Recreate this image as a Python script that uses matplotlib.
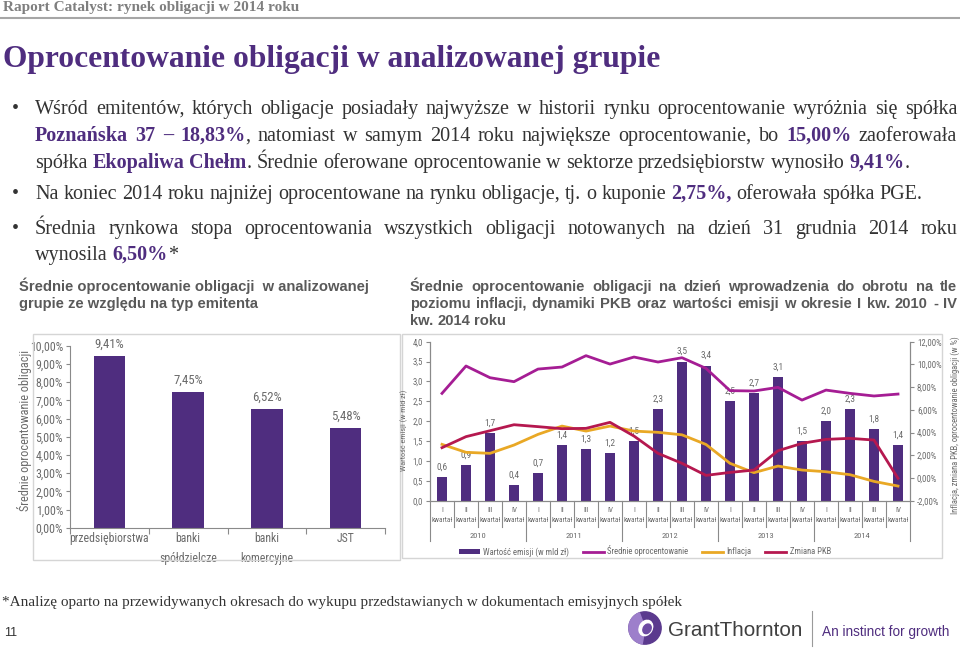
import matplotlib
matplotlib.use("Agg")
import matplotlib.pyplot as plt
from matplotlib import font_manager
from matplotlib.patches import Rectangle, Circle, Wedge, Ellipse
from matplotlib.lines import Line2D
import numpy as np

W, H = 960, 648

# left chart - average coupon by issuer type
issuer_types = ["przedsiębiorstwa", "banki\nspółdzielcze", "banki\nkomercyjne", "JST"]
issuer_rates = [9.41, 7.45, 6.52, 5.48]

# right chart - quarterly data, I kw. 2010 - IV kw. 2014
years = ["2010", "2011", "2012", "2013", "2014"]
quarters = ["I", "II", "III", "IV"]
emission = [0.6, 0.9, 1.7, 0.4, 0.7, 1.4, 1.3, 1.2, 1.5, 2.3,
            3.5, 3.4, 2.5, 2.7, 3.1, 1.5, 2.0, 2.3, 1.8, 1.4]
avg_rate = [7.45, 9.86, 8.83, 8.48, 9.59, 9.77, 10.77, 10.03, 10.65, 10.21,
            10.59, 9.65, 7.69, 7.66, 7.98, 6.86, 7.74, 7.45, 7.22, 7.39]
inflation = [2.96, 2.26, 2.17, 2.90, 3.84, 4.57, 4.13, 4.57, 4.13, 4.02,
             3.80, 2.95, 1.29, 0.47, 1.05, 0.70, 0.55, 0.29, -0.30, -0.71]
gdp = [2.67, 3.64, 4.16, 4.69, 4.52, 4.34, 4.37, 4.90, 3.69, 2.17,
       1.29, 0.23, 0.49, 0.70, 2.40, 3.05, 3.40, 3.49, 3.34, -0.03]

PURPLE = "#4f2d7f"
MAGENTA = "#a51d94"
YELLOW = "#e9a825"
RED = "#b5184f"
GREY = "#6a6a6a"
AXIS = "#8a8a8a"
TEXT = "#333333"

SERIF = "Liberation Serif"
SANS = "Liberation Sans"

# narrow sans for the charts if one is installed
fonts = font_manager.fontManager.ttflist
CHART, STRETCH = SANS, "normal"
for name in ["Liberation Sans Narrow", "Roboto Condensed", "Open Sans Condensed", "DejaVu Sans", "Noto Sans"]:
    hit = [f for f in fonts if f.name == name and f.weight in (400, "normal", "regular")
           and (f.stretch in ("condensed", "semi-condensed") or "Narrow" in name or "Condensed" in name)]
    if hit:
        CHART, STRETCH = name, hit[0].stretch
        break
plt.rcParams["font.family"] = [CHART, "DejaVu Sans"]
plt.rcParams["font.stretch"] = STRETCH

fig = plt.figure(figsize=(9.6, 6.48), dpi=100)
renderer = fig.canvas.get_renderer()


def fx(x):
    return x / W


def fy(y):
    return 1 - y / H


def width_of(s, **kw):
    t = fig.text(0, 0, s, **kw)
    w = t.get_window_extent(renderer).width
    t.remove()
    return w


def fit(s, target, **kw):
    return 10 * target / width_of(s, fontsize=10, **kw)


# ---- rich text with **bold** parts, optionally justified ----
def parse(line):
    words, bold = [], False
    for raw in line.split(" "):
        segs = []
        for i, p in enumerate(raw.split("**")):
            if i > 0:
                bold = not bold
            if p:
                segs.append((p, bold))
        if segs:
            words.append(segs)
    return words


def style(bold, size, family, color, bcolor):
    return dict(fontsize=size, family=family, fontweight="bold" if bold else "normal",
                color=bcolor if bold else color)


def rich(line, x0, base, size, family=SERIF, x1=None, color=TEXT, bcolor=PURPLE, allbold=False):
    words = parse(line)
    st = lambda b: style(b or allbold, size, family, color, bcolor)
    widths = [[width_of(s, **st(b)) for s, b in w] for w in words]
    total = sum(sum(w) for w in widths)
    space = width_of("a a", **st(False)) - width_of("aa", **st(False))
    gap = space if x1 is None else (x1 - x0 - total) / (len(words) - 1)
    x = x0
    for w, ws in zip(words, widths):
        for (s, b), sw in zip(w, ws):
            fig.text(fx(x), fy(base), s, ha="left", va="baseline", **st(b))
            x += sw
        x += gap


def rich_width(line, size, family=SERIF):
    words = parse(line)
    total = sum(width_of(s, **style(b, size, family, TEXT, PURPLE)) for w in words for s, b in w)
    space = width_of("a a", fontsize=size, family=family) - width_of("aa", fontsize=size, family=family)
    return total + space * (len(words) - 1)


# ---- header ----
header = "Raport Catalyst: rynek obligacji w 2014 roku"
fig.text(fx(3), fy(11), header, ha="left", va="baseline", family=SERIF, fontweight="bold",
         color="#7f7f7f", fontsize=fit(header, 297, family=SERIF, fontweight="bold"))
fig.add_artist(Line2D([0, 1], [fy(18), fy(18)], color="#a6a6a6", lw=1.5))

title = "Oprocentowanie obligacji w analizowanej grupie"
fig.text(fx(3), fy(67), title, ha="left", va="baseline", family=SERIF, fontweight="bold",
         color=PURPLE, fontsize=fit(title, 657, family=SERIF, fontweight="bold"))

# ---- bullets ----
body = [
    ("Wśród emitentów, których obligacje posiadały najwyższe w historii rynku oprocentowanie wyróżnia się spółka", 114, True, True),
    ("**Poznańska 37 – 18,83%**, natomiast w samym 2014 roku największe oprocentowanie, bo **15,00%** zaoferowała", 141, False, True),
    ("spółka **Ekopaliwa Chełm**. Średnie oferowane oprocentowanie w sektorze przedsiębiorstw wynosiło **9,41%**.", 168, False, False),
    ("Na koniec 2014 roku najniżej oprocentowane na rynku obligacje, tj. o kuponie **2,75%,** oferowała spółka PGE.", 199, True, False),
    ("Średnia rynkowa stopa oprocentowania wszystkich obligacji notowanych na dzień 31 grudnia 2014 roku", 234, True, True),
    ("wynosila **6,50%***", 260, False, False),
]
bsize = 12 * 890 / rich_width(body[3][0], 12)
for line, base, bullet, justify in body:
    if bullet:
        fig.text(fx(12), fy(base), "•", ha="left", va="baseline", family=SERIF, fontsize=bsize, color=TEXT)
    rich(line, 35, base, bsize, x1=957 if justify else None)

# ---- chart subtitles ----
sub_l = ["Średnie oprocentowanie obligacji  w analizowanej", "grupie ze względu na typ emitenta"]
sub_r = ["Średnie oprocentowanie obligacji  na dzień wprowadzenia do obrotu na tle",
         "poziomu inflacji, dynamiki PKB oraz wartości emisji w okresie I kw. 2010 - IV",
         "kw. 2014 roku"]
ssize = fit(sub_l[0], 351, family=SANS, fontweight="bold")
for i, s in enumerate(sub_l):
    fig.text(fx(19), fy(291 + 17 * i), s, ha="left", va="baseline", family=SANS,
             fontweight="bold", fontsize=ssize, color="#595959")
for i, s in enumerate(sub_r):
    rich(s, 410, 291 + 17 * i, ssize, family=SANS, x1=957 if i < 2 else None,
         color="#595959", allbold=True, bcolor="#595959")

# chart text sizes, from widths measured on the reference (a bit larger, the original font is narrower)
k = 1.1
s_tick_l = fit("10,00%", 30 * k)
s_cat = fit("przedsiębiorstwa", 72 * k)
s_val_l = fit("9,41%", 27 * k)
s_ylab_l = fit("Średnie oprocentowanie obligacji", 146 * k)
s_tick_r = fit("12,00%", 22 * k)
s_val_r = fit("0,6", 10 * k)
s_kw = fit("kwartał", 21)
s_year = fit("2010", 15 * k)
s_leg = fit("Wartość emisji (w mld zł)", 78 * k)
s_ylab_r1 = fit("Wartość emisji (w mld zł)", 73 * k)
s_ylab_r2 = fit("Inflacja, zmiana PKB, oprocentowanie obligacji (w %)", 180)

# ---- left chart ----
fig.add_artist(Rectangle((fx(33), fy(560)), (400 - 33) / W, (560 - 334) / H,
                         transform=fig.transFigure, fill=False, ec="#d5d5d5", lw=1))
ax1 = fig.add_axes([fx(70), fy(527.7), (385 - 70) / W, (527.7 - 345.7) / H])
pos = np.arange(len(issuer_types))
ax1.bar(pos, issuer_rates, width=0.4, color=PURPLE)
for p, v in zip(pos, issuer_rates):
    ax1.annotate(f"{v:.2f}%".replace(".", ","), (p, v), xytext=(0, 4), textcoords="offset points",
                 ha="center", va="bottom", fontsize=s_val_l, color=GREY)
ax1.set_xlim(-0.5, len(issuer_types) - 0.5)
ax1.set_ylim(0, 10)
yt = np.arange(0, 11, 1)
ax1.set_yticks(yt, [f"{v:.2f}%".replace(".", ",") for v in yt])
ax1.set_xticks(np.arange(-0.5, len(issuer_types)), [""] * (len(issuer_types) + 1))
ax1.set_xticks(pos, issuer_types, minor=True)
ax1.tick_params(axis="x", which="minor", length=0, pad=3, labelsize=s_cat, labelcolor=GREY)
for t in ax1.get_xticklabels(minor=True):
    t.set_linespacing(1.75)
ax1.tick_params(axis="x", which="major", length=4, color=AXIS)
ax1.tick_params(axis="y", length=3, color=AXIS, labelsize=s_tick_l, labelcolor=GREY, pad=2)
for s in ["top", "right"]:
    ax1.spines[s].set_visible(False)
for s in ["left", "bottom"]:
    ax1.spines[s].set_color(AXIS)
ax1.set_facecolor("none")
fig.text(fx(25), fy(430), "Średnie oprocentowanie obligacji", rotation=90, ha="center", va="center",
         fontsize=s_ylab_l, color=GREY)

# ---- right chart ----
fig.add_artist(Rectangle((fx(402), fy(558)), (942 - 402) / W, (558 - 334) / H,
                         transform=fig.transFigure, fill=False, ec="#d5d5d5", lw=1))
top, bot = 341.7, 500.7
ax2 = fig.add_axes([fx(430), fy(bot), (910 - 430) / W, (bot - top) / H])
xq = np.arange(len(emission))
ax2.bar(xq, emission, width=0.42, color=PURPLE, label="Wartość emisji (w mld zł)")
for p, v in zip(xq, emission):
    ax2.annotate(f"{v:.1f}".replace(".", ","), (p, v), xytext=(0, 4), textcoords="offset points",
                 ha="center", va="bottom", fontsize=s_val_r, color=GREY)
ax2.set_xlim(-0.5, len(emission) - 0.5)
ax2.set_ylim(0, 4)
lt = np.arange(0, 4.01, 0.5)
ax2.set_yticks(lt, [f"{v:.1f}".replace(".", ",") for v in lt])
ax2.set_xticks([])
ax2.tick_params(axis="y", length=3, color=AXIS, labelsize=s_tick_r, labelcolor=GREY, pad=2)

ax3 = ax2.twinx()
ax3.plot(xq, avg_rate, color=MAGENTA, lw=2, solid_joinstyle="round", label="Średnie oprocentowanie")
ax3.plot(xq, inflation, color=YELLOW, lw=2, solid_joinstyle="round", label="Inflacja")
ax3.plot(xq, gdp, color=RED, lw=2, solid_joinstyle="round", label="Zmiana PKB")
ax3.set_ylim(-2, 12)
rt = np.arange(-2, 12.01, 2)
ax3.set_yticks(rt, [f"{v:.2f}%".replace(".", ",") for v in rt])
ax3.tick_params(axis="y", length=3, color=AXIS, labelsize=s_tick_r, labelcolor=GREY, pad=2)
for a in (ax2, ax3):
    a.spines["top"].set_visible(False)
    for s in ["left", "right", "bottom"]:
        a.spines[s].set_color(AXIS)
    a.set_facecolor("none")

# two-level category axis
ay = lambda y: (bot - y) / (bot - top)
tr = ax2.get_xaxis_transform()
for i in range(len(emission) + 1):
    end = 541 if i % 4 == 0 else 527
    ax2.plot([i - 0.5, i - 0.5], [0, ay(end)], transform=tr, clip_on=False, color=AXIS, lw=0.8)
for i in range(len(emission)):
    ax2.text(i, ay(510), quarters[i % 4], transform=tr, ha="center", va="center", fontsize=s_kw, color=GREY)
    ax2.text(i, ay(521), "kwartał", transform=tr, ha="center", va="center", fontsize=s_kw, color=GREY)
for j, yr in enumerate(years):
    ax2.text(4 * j + 1.5, ay(536), yr, transform=tr, ha="center", va="center", fontsize=s_year, color=GREY)

fig.text(fx(404), fy(430), "Wartość emisji (w mld zł)", rotation=90, ha="center", va="center",
         fontsize=s_ylab_r1, color=GREY)
fig.text(fx(955), fy(425), "Inflacja, zmiana PKB, oprocentowanie obligacji (w %)", rotation=90,
         ha="center", va="center", fontsize=s_ylab_r2, color=GREY)

h2, l2 = ax2.get_legend_handles_labels()
h3, l3 = ax3.get_legend_handles_labels()
fig.legend(h2 + h3, l2 + l3, loc="center", bbox_to_anchor=(fx(645), fy(551)), ncol=4, frameon=False,
           fontsize=s_leg, handlelength=2.4, handleheight=0.55, columnspacing=1.6, handletextpad=0.4,
           labelcolor=GREY)

# ---- footnote, page number, logo ----
foot = "*Analizę oparto na przewidywanych okresach do wykupu przedstawianych w dokumentach emisyjnych spółek"
fig.text(fx(2), fy(606), foot, ha="left", va="baseline", family=SERIF, color=TEXT,
         fontsize=fit(foot, 681, family=SERIF))
fig.text(fx(4), fy(636), "11", ha="left", va="baseline", family=SANS, fontsize=9, color=TEXT)

logo = fig.add_axes([fx(628), fy(645), 34 / W, 34 / H])
logo.set_xlim(-1, 1)
logo.set_ylim(-1, 1)
logo.set_aspect("equal")
logo.axis("off")
logo.add_patch(Circle((0, 0), 0.95, color="#5b3a8e"))
logo.add_patch(Wedge((0, 0), 0.95, 110, 260, color="#9d7fcb"))
logo.add_patch(Ellipse((0.05, 0.0), 0.75, 0.95, angle=-30, color="white"))
logo.add_patch(Ellipse((0.12, -0.05), 0.45, 0.6, angle=-30, color="#6d4ba3"))

gt = "GrantThornton"
fig.text(fx(668), fy(636), gt, ha="left", va="baseline", family=SANS, color="#404040",
         fontsize=fit(gt, 135, family=SANS))
fig.add_artist(Line2D([fx(812), fx(812)], [fy(646), fy(611)], color="#9a9a9a", lw=0.8))
tag = "An instinct for growth"
fig.text(fx(822), fy(636), tag, ha="left", va="baseline", family=SANS, color=PURPLE,
         fontsize=fit(tag, 128, family=SANS))

fig.savefig("out.png", dpi=100)
